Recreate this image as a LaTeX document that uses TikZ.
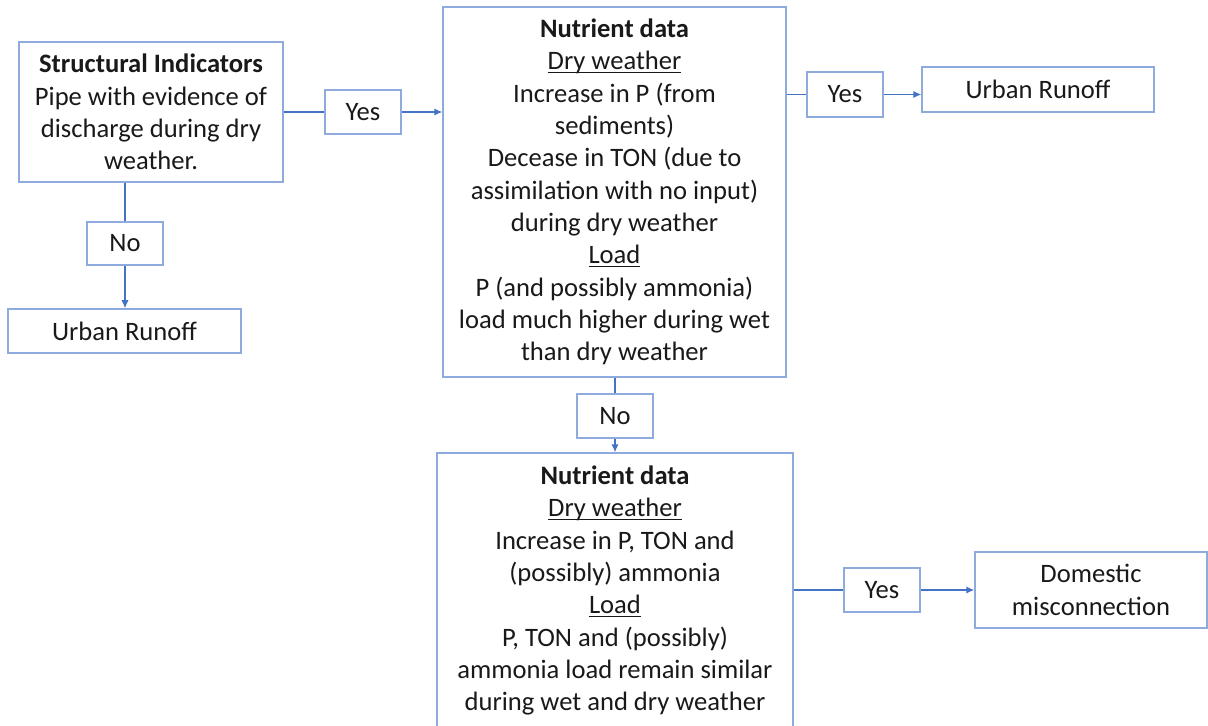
\documentclass[tikz,border=0pt]{standalone}
\usepackage{fontspec}
\setmainfont{Carlito}
\usetikzlibrary{arrows.meta}
\definecolor{boxline}{HTML}{8FAADC}
\definecolor{linkline}{HTML}{4472C4}
% underline drawn at a fixed depth, crossing the descenders
\newcommand\undl[1]{\setbox0\hbox{#1}\rlap{\rule[-1.7pt]{\wd0}{0.55pt}}\box0}
\begin{document}
\begin{tikzpicture}[x=0.5pt,y=-0.5pt,
  every node/.style={font=\fontsize{13.3pt}{16.15pt}\selectfont, text=black!90},
  flowbox/.style={draw=boxline, line width=0.75pt, inner sep=0pt, align=center},
  link/.style={draw=linkline, line width=0.55pt},
  arrowlink/.style={link, -{Latex[length=4pt,width=3.6pt]}}]
\useasboundingbox (0,0) rectangle (1208,726);
\clip (0,0) rectangle (1208,726);

% first decision: structural indicators
\node[flowbox, minimum width=132pt, minimum height=70pt] (A) at (151,112)
  {\textbf{Structural Indicators}\\Pipe with evidence of\\discharge during dry\\weather.};
\node[flowbox, minimum width=38pt, minimum height=22pt] (yes1) at (363,112) {Yes};
\node[flowbox, minimum width=38pt, minimum height=21.5pt] (no1) at (125,243.5) {No};
\node[flowbox, minimum width=116.5pt, minimum height=22pt] (ur1) at (124.5,331) {Urban Runoff};

% second decision: nutrient data (urban runoff)
\node[flowbox, minimum width=171.5pt, minimum height=185pt] (N1) at (614.5,192)
  {\textbf{Nutrient data}\\\undl{Dry weather}\\Increase in P (from\\sediments)\\Decease in TON (due to\\assimilation with no input)\\during dry weather\\\undl{Load}\\P (and possibly ammonia)\\load much higher during wet\\than dry weather};
\node[flowbox, minimum width=38pt, minimum height=22.5pt] (yes2) at (845,94.5) {Yes};
\node[flowbox, minimum width=116pt, minimum height=22.5pt] (ur2) at (1038,89.5) {Urban Runoff};
\node[flowbox, minimum width=38pt, minimum height=22pt] (no2) at (615,416) {No};

% third decision: nutrient data (domestic misconnection)
\node[flowbox, minimum width=178pt, minimum height=137.5pt] (N2) at (615,590.5)
  {\textbf{Nutrient data}\\\undl{Dry weather}\\Increase in P, TON and\\(possibly) ammonia\\\undl{Load}\\P, TON and (possibly)\\ammonia load remain similar\\during wet and dry weather};
\node[flowbox, minimum width=38pt, minimum height=22pt] (yes3) at (882,590) {Yes};
\node[flowbox, minimum width=116pt, minimum height=38pt] (dom) at (1091,590) {Domestic\\misconnection};

% connectors
\draw[link] (A.east) -- (yes1.west);
\draw[arrowlink] (yes1.east) -- (yes1.east -| N1.west);
\draw[link] (no1.north |- A.south) -- (no1.north);
\draw[arrowlink] (no1.south) -- (no1.south |- ur1.north);
\draw[link] (N1.east |- yes2.west) -- (yes2.west);
\draw[arrowlink] (yes2.east) -- (yes2.east -| ur2.west);
\draw[link] (no2.north |- N1.south) -- (no2.north);
\draw[arrowlink] (no2.south) -- (no2.south |- N2.north);
\draw[link] (N2.east |- yes3.west) -- (yes3.west);
\draw[arrowlink] (yes3.east) -- (yes3.east -| dom.west);
\end{tikzpicture}
\end{document}
